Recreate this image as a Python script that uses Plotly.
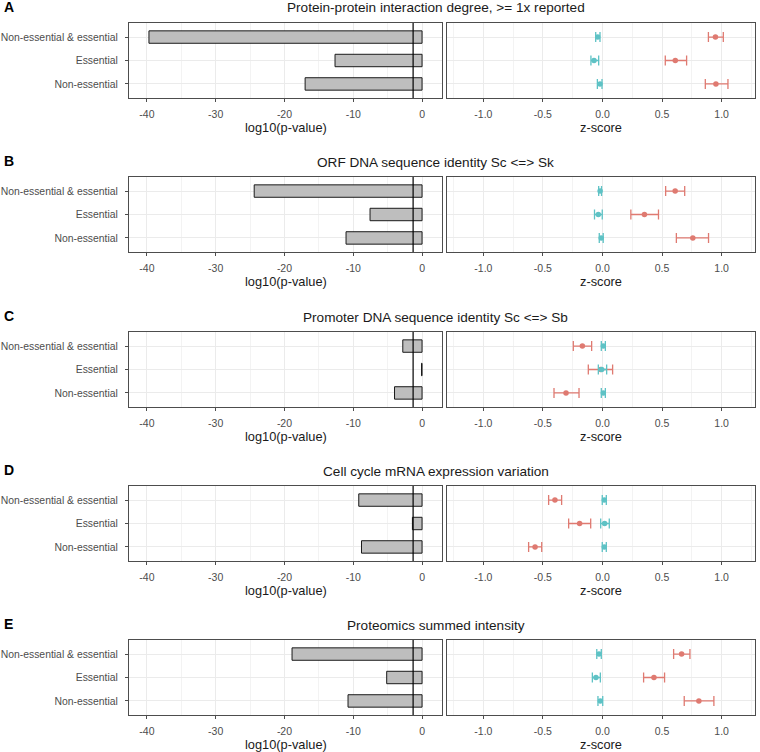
import plotly.graph_objects as go

# ---------------- data ----------------
panel_letters = ["A", "B", "C", "D", "E"]
panel_titles = [
    "Protein-protein interaction degree, >= 1x reported",
    "ORF DNA sequence identity Sc <=> Sk",
    "Promoter DNA sequence identity Sc <=> Sb",
    "Cell cycle mRNA expression variation",
    "Proteomics summed intensity",
]
# top-to-bottom order
categories = ["Non-essential & essential", "Essential", "Non-essential"]

log10_pvalue = [
    [-39.7, -12.65, -17.0],
    [-24.4, -7.56, -11.05],
    [-2.8, -0.08, -4.0],
    [-9.2, -1.4, -8.8],
    [-18.9, -5.14, -10.76],
]
significance_line = -1.3  # log10(0.05)

red_z = [
    [0.948, 0.611, 0.952],
    [0.61, 0.352, 0.758],
    [-0.169, -0.015, -0.306],
    [-0.399, -0.192, -0.566],
    [0.664, 0.432, 0.809],
]
red_lo = [
    [0.889, 0.527, 0.863],
    [0.53, 0.238, 0.62],
    [-0.245, -0.119, -0.407],
    [-0.452, -0.284, -0.62],
    [0.597, 0.345, 0.686],
]
red_hi = [
    [1.014, 0.706, 1.053],
    [0.69, 0.47, 0.89],
    [-0.091, 0.085, -0.197],
    [-0.343, -0.099, -0.51],
    [0.734, 0.521, 0.935],
]
cyan_z = [
    [-0.04, -0.071, -0.021],
    [-0.02, -0.035, -0.011],
    [0.007, -0.007, 0.007],
    [0.015, 0.018, 0.015],
    [-0.029, -0.055, -0.018],
]
cyan_lo = [
    [-0.057, -0.097, -0.043],
    [-0.032, -0.067, -0.027],
    [-0.01, -0.035, -0.01],
    [-0.002, -0.015, -0.002],
    [-0.048, -0.085, -0.038],
]
cyan_hi = [
    [-0.021, -0.032, -0.004],
    [-0.008, -0.002, 0.006],
    [0.024, 0.035, 0.024],
    [0.032, 0.057, 0.032],
    [-0.01, -0.018, 0.002],
]

left_ticks = [-40, -30, -20, -10, 0]
left_ticktext = ["-40", "-30", "-20", "-10", "0"]
right_ticks = [-1.0, -0.5, 0.0, 0.5, 1.0]
right_ticktext = ["-1.0", "-0.5", "0.0", "0.5", "1.0"]

# ---------------- layout geometry (pixels) ----------------
W, H = 760, 752
left_px = (129, 442)
right_px = (447, 755)
panel_tops = [23, 177, 332, 486, 640]
panel_h = 75

RED = "#DF7A71"
CYAN = "#5EC2C5"
FONT = "Liberation Sans, Arial, sans-serif"
GRID = "#EBEBEB"
MINOR = "#F3F3F3"
BORDER = "#4D4D4D"


def px_x(p):
    return p / W


def px_y(p):
    return 1 - p / H


fig = go.Figure()
layout = dict(
    width=W, height=H, margin=dict(l=0, r=0, t=0, b=0, autoexpand=False),
    paper_bgcolor="white", plot_bgcolor="white", showlegend=False,
    font=dict(family=FONT, color="#1a1a1a"),
)
annotations = []
shapes = []
cat_bottom_up = categories[::-1]

for i in range(5):
    li, ri = 2 * i + 1, 2 * i + 2
    lx = "x" if li == 1 else f"x{li}"
    ly = "y" if li == 1 else f"y{li}"
    rx, ry = f"x{ri}", f"y{ri}"
    top = panel_tops[i]
    bot = top + panel_h
    ydom = [px_y(bot), px_y(top)]

    common_x = dict(
        showline=True, linecolor=BORDER, linewidth=1, mirror=True,
        ticks="outside", ticklen=3, tickcolor=BORDER, tickwidth=1,
        showgrid=True, gridcolor=GRID, gridwidth=1, zeroline=False,
        tickfont=dict(size=10.5, color="#4D4D4D", family=FONT),
        ticklabelstandoff=3, tickmode="array", automargin=False,
    )
    common_y = dict(
        type="category", categoryorder="array", categoryarray=cat_bottom_up,
        range=[-0.6, 2.6], showline=True, linecolor=BORDER, linewidth=1,
        mirror=True, showgrid=True, gridcolor=GRID, gridwidth=1, automargin=False,
        zeroline=False, tickfont=dict(size=10.4, color="#4D4D4D", family=FONT),
    )
    layout["xaxis" if li == 1 else f"xaxis{li}"] = dict(
        common_x, domain=[px_x(left_px[0]), px_x(left_px[1])], anchor=ly,
        range=[-42.6, 2.9], tickvals=left_ticks, ticktext=left_ticktext,
        minor=dict(tickvals=[-35, -25, -15, -5], showgrid=True, gridcolor=MINOR, gridwidth=0.6, ticks=""),
    )
    layout["yaxis" if li == 1 else f"yaxis{li}"] = dict(
        common_y, domain=ydom, anchor=lx, ticks="outside", ticklen=3,
        tickcolor=BORDER, showticklabels=True, ticklabelstandoff=5,
    )
    layout[f"xaxis{ri}"] = dict(
        common_x, domain=[px_x(right_px[0]), px_x(right_px[1])], anchor=ry,
        range=[-1.305, 1.28], tickvals=right_ticks, ticktext=right_ticktext,
        minor=dict(tickvals=[-1.25, -0.75, -0.25, 0.25, 0.75, 1.25], showgrid=True,
                   gridcolor=MINOR, gridwidth=0.6, ticks=""),
    )
    layout[f"yaxis{ri}"] = dict(
        common_y, domain=ydom, anchor=rx, ticks="", showticklabels=False,
    )

    # bars
    fig.add_trace(go.Bar(
        x=log10_pvalue[i], y=categories, orientation="h", width=0.53,
        marker=dict(color="#BEBEBE", line=dict(color="#1a1a1a", width=1)),
        xaxis=lx, yaxis=ly, hoverinfo="x+y",
    ))
    shapes.append(dict(
        type="line", xref=lx, yref=f"{ly} domain", x0=significance_line,
        x1=significance_line, y0=0, y1=1, line=dict(color="black", width=1.2),
        layer="above",
    ))

    # error-bar points
    for zs, los, his, col in [(red_z, red_lo, red_hi, RED), (cyan_z, cyan_lo, cyan_hi, CYAN)]:
        z = zs[i]
        plus = [h - v for h, v in zip(his[i], z)]
        minus = [v - l for v, l in zip(z, los[i])]
        fig.add_trace(go.Scatter(
            x=z, y=categories, mode="markers",
            marker=dict(color=col, size=5.5),
            error_x=dict(type="data", symmetric=False, array=plus, arrayminus=minus,
                         color=col, thickness=1.3, width=5),
            xaxis=rx, yaxis=ry,
        ))

    # panel title and letter
    annotations.append(dict(
        text=panel_titles[i], x=px_x(435.5), y=px_y(top - 15), xref="paper", yref="paper",
        xanchor="center", yanchor="middle", showarrow=False,
        font=dict(size=13.6, color="#1a1a1a", family=FONT),
    ))
    annotations.append(dict(
        text=f"<b>{panel_letters[i]}</b>", x=px_x(2), y=px_y(top - 16), xref="paper", yref="paper",
        xanchor="left", yanchor="middle", showarrow=False,
        font=dict(size=14, color="black", family=FONT),
    ))
    # axis titles
    annotations.append(dict(
        text="log10(p-value)", x=px_x((left_px[0] + left_px[1]) / 2), y=px_y(bot + 29),
        xref="paper", yref="paper", xanchor="center", yanchor="middle", showarrow=False,
        font=dict(size=12.8, color="#1a1a1a", family=FONT),
    ))
    annotations.append(dict(
        text="z-score", x=px_x((right_px[0] + right_px[1]) / 2), y=px_y(bot + 29),
        xref="paper", yref="paper", xanchor="center", yanchor="middle", showarrow=False,
        font=dict(size=12.8, color="#1a1a1a", family=FONT),
    ))

layout["annotations"] = annotations
layout["shapes"] = shapes
fig.update_layout(**layout)
fig.write_html(
    "out.html",
    config={"displayModeBar": False},
    post_script="document.body.style.margin='0';document.body.style.overflow='hidden';",
)
